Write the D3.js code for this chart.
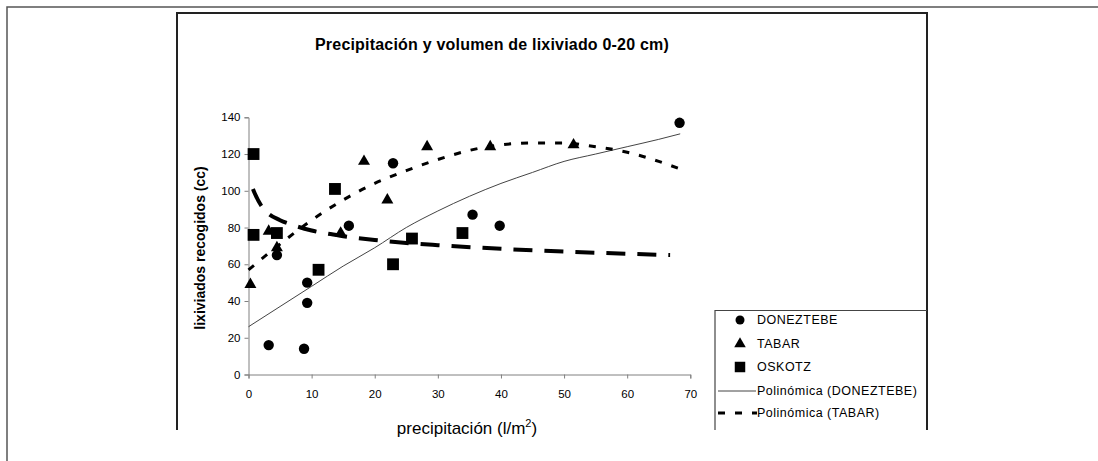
<!DOCTYPE html>
<html>
<head>
<meta charset="utf-8">
<script src="https://cdn.jsdelivr.net/npm/d3@7"></script>
<style>
  html, body { margin: 0; padding: 0; background: #fff; }
  svg { display: block; font-family: Arial, "Liberation Sans", sans-serif; }
</style>
</head>
<body>
<svg id="chart" width="1098" height="461"></svg>
<script>
// ---- data ----
const titleText = "Precipitación y volumen de lixiviado 0-20 cm)";
const yTitle = "lixiviados recogidos (cc)";
const xTitle = "precipitación (l/m";
const xTicks = [0, 10, 20, 30, 40, 50, 60, 70];
const yTicks = [0, 20, 40, 60, 80, 100, 120, 140];

const doneztebeX = [3.2, 8.8, 9.3, 9.3, 4.5, 15.9, 22.9, 35.5, 39.8, 68.3];
const doneztebeY = [16, 14, 39, 50, 65, 81, 115, 87, 81, 137];

const tabarX = [0.3, 3.2, 4.5, 14.6, 18.3, 22.0, 28.3, 38.3, 51.5];
const tabarY = [49, 78, 69, 77, 116, 95, 124, 124, 125];

const oskotzX = [0.8, 0.8, 4.5, 11.1, 13.7, 22.9, 25.9, 33.9];
const oskotzY = [120, 76, 77, 57, 101, 60, 74, 77];

// trend curves
const trendDonX = [0, 5, 10, 15, 20, 25, 30, 35, 40, 45, 50, 55, 60, 65, 68.4];
const trendDonY = [26, 37, 48, 59, 69, 80, 89, 97, 104, 110, 116, 120, 124, 128, 131];

const trendTabX = [0, 5, 10, 15, 20, 25, 30, 35, 40, 45, 50, 55, 60, 65, 68.3];
const trendTabY = [57, 71, 84, 95, 104, 111, 117, 122, 125, 126, 126, 124, 121, 116, 112];

const trendOskX = [0.7, 1, 2, 3, 5, 7, 10, 15, 20, 25, 30, 40, 50, 60, 66.8];
const trendOskY = [101, 98.5, 92, 88, 84, 81.4, 78.4, 75.3, 73.2, 71.6, 70.4, 68.4, 66.9, 65.7, 65];

const legendLabels = ["DONEZTEBE", "TABAR", "OSKOTZ", "Polinómica (DONEZTEBE)", "Polinómica (TABAR)"];

// ---- drawing ----
const svg = d3.select("#chart");
const x = d3.scaleLinear().domain([0, 70]).range([248.5, 690.3]);
const y = d3.scaleLinear().domain([0, 140]).range([374.5, 117.3]);

// outer frame (top & left)
svg.append("path").attr("d", "M7,461 L7,7 L1098,7")
  .attr("fill", "none").attr("stroke", "#555").attr("stroke-width", 1.5);
// chart area box (clipped at bottom)
svg.append("path").attr("d", "M177,430 L177,13 L927,13 L927,430")
  .attr("fill", "none").attr("stroke", "#222").attr("stroke-width", 2);

// title
svg.append("text").attr("x", 492).attr("y", 50).attr("text-anchor", "middle")
  .attr("font-size", "16px").attr("font-weight", "bold").attr("fill", "#000")
  .attr("letter-spacing", "0.2px")
  .text(titleText);

// axes
const gx = svg.append("g").attr("transform", `translate(0,${y(0)})`)
  .call(d3.axisBottom(x).tickValues(xTicks).tickSize(4).tickPadding(11).tickFormat(d3.format("d")));
const gy = svg.append("g").attr("transform", `translate(${x(0)},0)`)
  .call(d3.axisLeft(y).tickValues(yTicks).tickSize(4).tickPadding(4).tickFormat(d3.format("d")));
[gx, gy].forEach(g => {
  g.select(".domain").attr("stroke", "#808080");
  g.selectAll(".tick line").attr("stroke", "#808080");
  g.selectAll(".tick text").attr("fill", "#000").attr("font-size", "11.5px")
    .attr("font-family", "Arial, 'Liberation Sans', sans-serif");
});

// axis titles
svg.append("text").attr("transform", `translate(205,248) rotate(-90)`)
  .attr("text-anchor", "middle").attr("font-size", "14px").attr("font-weight", "bold")
  .attr("fill", "#000").text(yTitle);
const xt = svg.append("text").attr("x", 467).attr("y", 434).attr("text-anchor", "middle")
  .attr("font-size", "17px").attr("fill", "#000");
xt.append("tspan").text(xTitle);
xt.append("tspan").attr("dy", -7).attr("font-size", "11px").text("2");
xt.append("tspan").attr("dy", 7).text(")");

// trend lines
const line = d3.line().x(d => x(d[0])).y(d => y(d[1])).curve(d3.curveMonotoneX);
svg.append("path").datum(d3.zip(trendDonX, trendDonY)).attr("d", line)
  .attr("fill", "none").attr("stroke", "#444").attr("stroke-width", 1);
svg.append("path").datum(d3.zip(trendTabX, trendTabY)).attr("d", line)
  .attr("fill", "none").attr("stroke", "#000").attr("stroke-width", 3)
  .attr("stroke-dasharray", "7,10");
svg.append("path").datum(d3.zip(trendOskX, trendOskY)).attr("d", line)
  .attr("fill", "none").attr("stroke", "#000").attr("stroke-width", 4)
  .attr("stroke-dasharray", "19,12");

// markers
const sym = (type, size) => d3.symbol().type(type).size(size)();
svg.append("g").selectAll("path").data(d3.zip(doneztebeX, doneztebeY)).join("path")
  .attr("d", sym(d3.symbolCircle, 85))
  .attr("transform", d => `translate(${x(d[0])},${y(d[1])})`).attr("fill", "#000");
svg.append("g").selectAll("path").data(d3.zip(tabarX, tabarY)).join("path")
  .attr("d", sym(d3.symbolTriangle, 62))
  .attr("transform", d => `translate(${x(d[0])},${y(d[1])})`).attr("fill", "#000");
svg.append("g").selectAll("path").data(d3.zip(oskotzX, oskotzY)).join("path")
  .attr("d", sym(d3.symbolSquare, 140))
  .attr("transform", d => `translate(${x(d[0])},${y(d[1])})`).attr("fill", "#000");

// legend (clipped at bottom)
const lg = svg.append("g");
lg.append("path").attr("d", "M715,430 L715,310.5 L927,310.5")
  .attr("fill", "none").attr("stroke", "#444").attr("stroke-width", 1.2);
const rows = [320, 344, 367, 391, 413];
const types = [d3.symbolCircle, d3.symbolTriangle, d3.symbolSquare];
const sizes = [64, 58, 110];
legendLabels.forEach((lab, i) => {
  const ry = rows[i];
  if (i < 3) {
    lg.append("path").attr("d", sym(types[i], sizes[i]))
      .attr("transform", `translate(740,${ry})`).attr("fill", "#000");
  } else if (i === 3) {
    lg.append("line").attr("x1", 718).attr("x2", 756).attr("y1", ry).attr("y2", ry)
      .attr("stroke", "#444").attr("stroke-width", 1);
  } else {
    lg.append("line").attr("x1", 718).attr("x2", 757).attr("y1", ry).attr("y2", ry)
      .attr("stroke", "#000").attr("stroke-width", 3).attr("stroke-dasharray", "7,10");
  }
  lg.append("text").attr("x", 757).attr("y", ry).attr("dy", "0.35em")
    .attr("font-size", "12.5px").attr("letter-spacing", "0.5px").attr("fill", "#000").text(lab);
});
</script>
</body>
</html>
